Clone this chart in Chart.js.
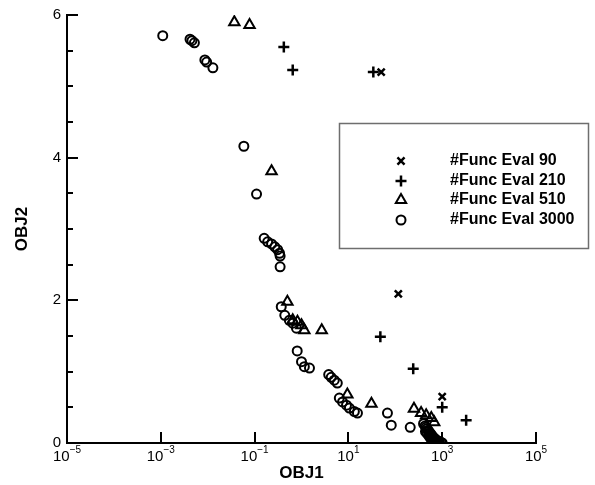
<!DOCTYPE html>
<html>
<head>
<meta charset="utf-8">
<script src="https://cdn.jsdelivr.net/npm/chart.js@4/dist/chart.umd.min.js"></script>
<style>
  html, body { margin: 0; padding: 0; background: #fff; }
  #wrap { width: 595px; height: 485px; }
</style>
</head>
<body>
<div id="wrap"><canvas id="pareto" width="595" height="485"></canvas></div>
<script>
// front after 90 evaluations
const eval90Obj1 = [50, 116, 1000];
const eval90Obj2 = [5.2, 2.09, 0.65];

// front after 210 evaluations
const eval210Obj1 = [0.42, 0.65, 34, 48, 241, 1000, 3240];
const eval210Obj2 = [5.55, 5.23, 5.2, 1.49, 1.04, 0.5, 0.32];

// front after 510 evaluations
const eval510Obj1 = [0.037, 0.078, 0.23, 0.5, 0.65, 0.82, 1.0, 1.15, 2.7, 9.5, 31, 250, 355, 455, 585, 675];
const eval510Obj2 = [5.9, 5.86, 3.81, 1.98, 1.72, 1.7, 1.65, 1.58, 1.58, 0.68, 0.55, 0.48, 0.42, 0.39, 0.35, 0.29];

// front after 3000 evaluations
const eval3000Obj1 = [0.0011, 0.0042, 0.0046, 0.0052, 0.0087, 0.0095, 0.0129, 0.059, 0.11,
  0.16, 0.19, 0.23, 0.27, 0.31, 0.34, 0.35, 0.35, 0.37, 0.44, 0.55, 0.65, 0.78, 0.81, 1.0, 1.15, 1.48,
  3.8, 4.3, 5.0, 5.8, 6.4, 7.5, 9.1, 10.5, 13.4, 15.6, 68, 82, 208,
  400, 430, 450, 470, 500, 520, 550, 580, 610, 650, 700, 750, 800, 870, 950, 1000,
  440, 480, 520, 560, 600, 650, 700, 760, 820];
const eval3000Obj2 = [5.71, 5.66, 5.64, 5.61, 5.37, 5.34, 5.26, 4.16, 3.49,
  2.87, 2.82, 2.79, 2.75, 2.71, 2.66, 2.62, 2.47, 1.91, 1.79, 1.72, 1.68, 1.61, 1.29, 1.14, 1.07, 1.05,
  0.96, 0.92, 0.88, 0.84, 0.63, 0.575, 0.53, 0.49, 0.44, 0.42, 0.42, 0.25, 0.22,
  0.27, 0.24, 0.22, 0.2, 0.18, 0.16, 0.14, 0.12, 0.1, 0.08, 0.06, 0.04, 0.03, 0.02, 0.01, 0.0,
  0.16, 0.13, 0.1, 0.07, 0.05, 0.03, 0.02, 0.01, 0.0];

const xDecades = [-5, -3, -1, 1, 3, 5];
const yMajor = [0, 2, 4, 6];
const yMinor = [0.5, 1, 1.5, 2.5, 3, 3.5, 4.5, 5, 5.5];

const FONT = 'Arial, "Liberation Sans", Helvetica, sans-serif';

function points(xs, ys) {
  return xs.map((v, i) => ({ x: v, y: ys[i] }));
}

const series = [
  { label: '#Func Eval 90', xs: eval90Obj1, ys: eval90Obj2, style: 'crossRot', radius: 5, width: 2.5 },
  { label: '#Func Eval 210', xs: eval210Obj1, ys: eval210Obj2, style: 'cross', radius: 5.5, width: 2.5 },
  { label: '#Func Eval 510', xs: eval510Obj1, ys: eval510Obj2, style: 'triangle', radius: 6, width: 2 },
  { label: '#Func Eval 3000', xs: eval3000Obj1, ys: eval3000Obj2, style: 'circle', radius: 4.5, width: 2 }
];

// inward ticks, superscript decade labels, axis titles and the boxed legend
const decor = {
  id: 'decor',
  afterDraw(chart) {
    const { ctx, chartArea: a, scales: { x, y } } = chart;
    ctx.save();
    ctx.strokeStyle = '#000';
    ctx.fillStyle = '#000';
    ctx.lineWidth = 2;

    ctx.beginPath();
    yMajor.forEach(v => {
      const py = Math.round(y.getPixelForValue(v));
      ctx.moveTo(a.left, py); ctx.lineTo(a.left + 11, py);
    });
    yMinor.forEach(v => {
      const py = Math.round(y.getPixelForValue(v));
      ctx.moveTo(a.left, py); ctx.lineTo(a.left + 6, py);
    });
    xDecades.forEach(d => {
      const px = Math.round(x.getPixelForValue(Math.pow(10, d)));
      ctx.moveTo(px, a.bottom); ctx.lineTo(px, a.bottom - 11);
    });
    ctx.stroke();

    // 10^n labels
    ctx.textBaseline = 'middle';
    xDecades.forEach(d => {
      const px = x.getPixelForValue(Math.pow(10, d));
      ctx.font = '15px ' + FONT;
      const wBase = ctx.measureText('10').width;
      ctx.font = '10px ' + FONT;
      const exp = String(d).replace('-', '\u2212');
      const wExp = ctx.measureText(exp).width;
      const left = px - (wBase + wExp) / 2;
      ctx.textAlign = 'left';
      ctx.font = '15px ' + FONT;
      ctx.fillText('10', left, a.bottom + 14);
      ctx.font = '10px ' + FONT;
      ctx.fillText(exp, left + wBase, a.bottom + 7);
    });

    // axis titles
    ctx.font = 'bold 17px ' + FONT;
    ctx.textAlign = 'center';
    ctx.fillText('OBJ1', (a.left + a.right) / 2, 473);
    ctx.save();
    ctx.translate(22, (a.top + a.bottom) / 2);
    ctx.rotate(-Math.PI / 2);
    ctx.fillText('OBJ2', 0, 0);
    ctx.restore();

    // legend box
    ctx.lineWidth = 1.5;
    ctx.strokeStyle = '#6e6e6e';
    ctx.strokeRect(339.5, 123.5, 249, 125);
    const rows = [161, 181, 200, 220];
    ctx.strokeStyle = '#000';
    ctx.textAlign = 'left';
    ctx.font = 'bold 16px ' + FONT;
    series.forEach((s, i) => {
      ctx.fillStyle = 'rgba(0,0,0,0)';
      ctx.lineWidth = s.width;
      Chart.helpers.drawPoint(ctx, {
        pointStyle: s.style, radius: s.radius, borderWidth: s.width, rotation: 0
      }, 401, rows[i]);
      ctx.fillStyle = '#000';
      ctx.fillText(s.label, 450, rows[i]);
    });
    ctx.restore();
  }
};

new Chart(document.getElementById('pareto'), {
  type: 'scatter',
  data: {
    datasets: series.map(s => ({
      label: s.label,
      data: points(s.xs, s.ys),
      pointStyle: s.style,
      pointRadius: s.radius,
      pointHoverRadius: s.radius,
      pointBorderWidth: s.width,
      borderColor: '#000',
      backgroundColor: 'rgba(0,0,0,0)'
    }))
  },
  options: {
    responsive: false,
    animation: false,
    devicePixelRatio: 1,
    layout: { padding: { top: 15, right: 59, left: 0, bottom: 0 } },
    plugins: { legend: { display: false }, tooltip: { enabled: false } },
    scales: {
      x: {
        type: 'logarithmic',
        min: 1e-5,
        max: 1e5,
        grid: { display: false, drawTicks: false },
        border: { display: true, color: '#000', width: 2 },
        ticks: { display: false },
        afterFit(scale) { scale.height = 42; }
      },
      y: {
        type: 'linear',
        min: 0,
        max: 6,
        grid: { display: false, drawTicks: false },
        border: { display: true, color: '#000', width: 2 },
        ticks: {
          stepSize: 2,
          padding: 6,
          color: '#000',
          font: { family: FONT, size: 15 }
        },
        afterFit(scale) { scale.width = 67; }
      }
    }
  },
  plugins: [decor]
});
</script>
</body>
</html>
